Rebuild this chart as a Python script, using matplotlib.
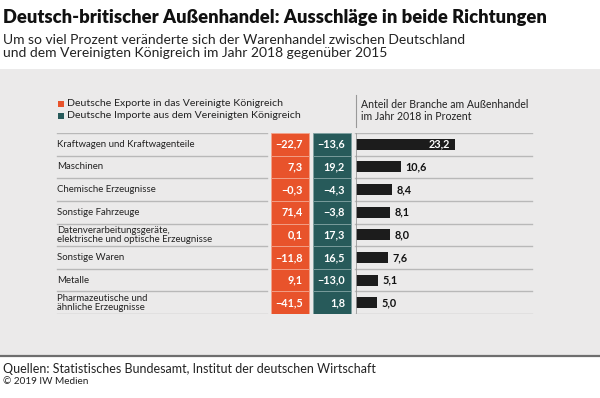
import matplotlib
matplotlib.use("Agg")
import matplotlib.pyplot as plt
from matplotlib.patches import Rectangle

plt.rcParams['font.family'] = ['Lato', 'DejaVu Sans']

# data
branchen = ["Kraftwagen und Kraftwagenteile", "Maschinen", "Chemische Erzeugnisse",
            "Sonstige Fahrzeuge",
            "Datenverarbeitungsgeräte,\nelektrische und optische Erzeugnisse",
            "Sonstige Waren", "Metalle", "Pharmazeutische und\nähnliche Erzeugnisse"]
exporte = [-22.7, 7.3, -0.3, 71.4, 0.1, -11.8, 9.1, -41.5]
importe = [-13.6, 19.2, -4.3, -3.8, 17.3, 16.5, -13.0, 1.8]
anteil = [23.2, 10.6, 8.4, 8.1, 8.0, 7.6, 5.1, 5.0]

RED = "#e8532b"
TEAL = "#275a5a"
BLACK = "#1c1c1c"
PANEL = "#ebeaea"
GRID = "#b8b8b8"

W, H = 600, 398


def fmt(v):
    s = f"{v:.1f}".replace(".", ",")
    return s.replace("-", "\u2212")


fig = plt.figure(figsize=(6, 3.98), dpi=100)
fig.patch.set_facecolor("white")

# background axes in pixel coordinates
bg = fig.add_axes([0, 0, 1, 1])
bg.set_xlim(0, W)
bg.set_ylim(H, 0)
bg.axis("off")
bg.add_patch(Rectangle((0, 69), W, 286, color=PANEL, lw=0, zorder=0))
bg.plot([0, W], [355.5, 355.5], color="#6e6e6e", lw=1.6, zorder=1)

bg.text(3, 18, "Deutsch-britischer Außenhandel: Ausschläge in beide Richtungen",
        fontsize=13.2, fontweight="heavy", va="center", ha="left", color="#111111")
bg.text(3, 40, "Um so viel Prozent veränderte sich der Warenhandel zwischen Deutschland",
        fontsize=10, va="center", color="#222222")
bg.text(3, 53, "und dem Vereinigten Königreich im Jahr 2018 gegenüber 2015",
        fontsize=10, va="center", color="#222222")

# legend
bg.add_patch(Rectangle((58, 100.5), 6, 6, color=RED, lw=0))
bg.add_patch(Rectangle((58, 112.5), 6, 6, color=TEAL, lw=0))
bg.text(67, 104, "Deutsche Exporte in das Vereinigte Königreich", fontsize=7.55,
        va="center", color="#222222")
bg.text(67, 116, "Deutsche Importe aus dem Vereinigten Königreich", fontsize=7.55,
        va="center", color="#222222")
bg.plot([356, 356], [95, 127], color="#999999", lw=0.8)
bg.text(361, 105, "Anteil der Branche am Außenhandel", fontsize=7.6,
        va="center", color="#222222")
bg.text(361, 116.5, "im Jahr 2018 in Prozent", fontsize=7.6,
        va="center", color="#222222")

bg.text(3, 369, "Quellen: Statistisches Bundesamt, Institut der deutschen Wirtschaft",
        fontsize=9.0, va="center", color="#222222")
bg.text(3, 382, "© 2019 IW Medien", fontsize=7.2, va="center", color="#222222")

# table rows: x in pixels, y in rows
top, bottom = 133, 314
n = len(branchen)
tab = fig.add_axes([0, 1 - bottom / H, 1, (bottom - top) / H])
tab.set_xlim(0, W)
tab.set_ylim(n, 0)
tab.axis("off")
tab.patch.set_alpha(0)

ys = [i + 0.5 for i in range(n)]
tab.barh(ys, 38, left=271, height=1.0, color=RED, edgecolor="#f3a38c", lw=0.6)
tab.barh(ys, 38, left=313, height=1.0, color=TEAL, edgecolor="#7fa0a0", lw=0.6)
for i in range(n + 1):
    tab.plot([57, 267], [i, i], color=GRID, lw=1.0)
    tab.plot([355, 532], [i, i], color=GRID, lw=1.0)
for y, name, e, m in zip(ys, branchen, exporte, importe):
    tab.text(57, y, name, fontsize=6.9, va="center", ha="left",
             color="#222222", linespacing=1.0)
    tab.text(303, y, fmt(e), fontsize=7.8, fontweight="bold", va="center",
             ha="right", color="white")
    tab.text(345, y, fmt(m), fontsize=7.8, fontweight="bold", va="center",
             ha="right", color="white")

# share bars
px_per_unit = 4.25
sh = fig.add_axes([356 / W, 1 - bottom / H, (W - 356) / W, (bottom - top) / H])
sh.set_xlim(0, (W - 356) / px_per_unit)
sh.set_ylim(n, 0)
sh.axis("off")
sh.patch.set_alpha(0)
sh.barh(ys, anteil, height=0.49, color=BLACK, lw=0)
sh.plot([0, 0], [0, n], color="#999999", lw=0.6)
for y, v in zip(ys, anteil):
    if v > 20:
        sh.text(v - 1.0, y, fmt(v), fontsize=7.8, fontweight="bold", va="center",
                ha="right", color="white")
    else:
        sh.text(v + 1.1, y, fmt(v), fontsize=7.8, fontweight="bold", va="center",
                ha="left", color="#111111")

fig.savefig("out.png", dpi=100)
